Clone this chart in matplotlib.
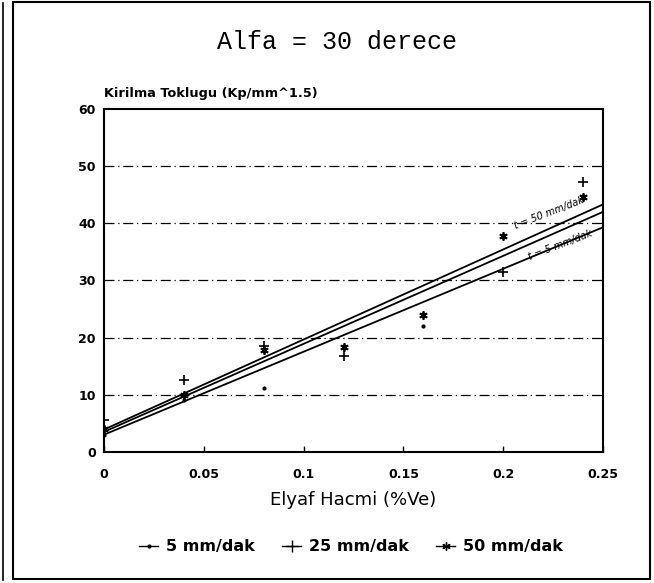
import numpy as np
import matplotlib
matplotlib.use("Agg")
import matplotlib.pyplot as plt
from matplotlib.lines import Line2D
from matplotlib.patches import Rectangle

# Measured points (Elyaf Hacmi vs Kirilma Toklugu)
x_5 = [0.0, 0.04, 0.08, 0.16]
y_5 = [3.0, 9.0, 11.2, 22.0]
x_25 = [0.0, 0.04, 0.08, 0.12, 0.20, 0.24]
y_25 = [5.6, 12.6, 18.5, 16.7, 31.4, 47.2]
x_50 = [0.0, 0.04, 0.08, 0.12, 0.16, 0.20, 0.24]
y_50 = [4.0, 10.0, 17.8, 18.3, 23.9, 37.7, 44.6]

# Fitted lines, value at x=0 and x=0.25
fit_x = [0.0, 0.25]
fit_5 = [3.0, 39.3]
fit_25 = [3.5, 42.0]
fit_50 = [3.9, 43.3]

xticks = [0, 0.05, 0.1, 0.15, 0.2, 0.25]
xtick_labels = ["0", "0.05", "0.1", "0.15", "0.2", "0.25"]
yticks = [0, 10, 20, 30, 40, 50, 60]

fig = plt.figure(figsize=(6.54, 5.83), dpi=100)
ax = fig.add_axes([0.159, 0.225, 0.763, 0.588])

# grid lines, dash-dot like the printout
for yv in yticks[1:-1]:
    ax.axhline(yv, color="black", lw=0.9, ls=(0, (8, 3, 1, 3)), zorder=1)

ax.plot(fit_x, fit_50, color="black", lw=1.3, zorder=2)
ax.plot(fit_x, fit_25, color="black", lw=1.3, zorder=2)
ax.plot(fit_x, fit_5, color="black", lw=1.3, zorder=2)

ax.plot(x_5, y_5, ls="none", marker=".", ms=4, color="black", zorder=3)
ax.plot(x_25, y_25, ls="none", marker="+", ms=7, mew=1.2, color="black", zorder=3)
ax.plot(x_50, y_50, ls="none", marker=(6, 2, 0), ms=6, mew=1.3, color="black", zorder=3)

ax.set_xlim(0, 0.25)
ax.set_ylim(0, 60)
ax.set_xticks(xticks)
ax.set_xticklabels(xtick_labels)
ax.set_yticks(yticks)
ax.tick_params(axis="x", direction="in", length=4, width=1, pad=12)
ax.tick_params(axis="y", length=0, pad=6)
for lab in ax.get_xticklabels() + ax.get_yticklabels():
    lab.set_fontweight("bold")
    lab.set_fontsize(9)
for s in ax.spines.values():
    s.set_linewidth(1.5)

ax.set_xlabel("Elyaf Hacmi (%Ve)", fontsize=13, labelpad=7)
ax.text(0.0, 1.025, "Kirilma Toklugu (Kp/mm^1.5)", transform=ax.transAxes,
        fontsize=9.3, fontweight="bold", ha="left", va="bottom")

# handwritten notes on the lines
ax.text(0.205, 38.6, "t = 50 mm/dak", rotation=21, fontsize=7, style="italic",
        ha="left", va="bottom")
ax.text(0.212, 33.2, "t = 5 mm/dak", rotation=21, fontsize=7, style="italic",
        ha="left", va="bottom")

fig.text(0.515, 0.928, "Alfa = 30 derece", fontsize=18, family="Liberation Mono",
         ha="center", va="center")

handles = [
    Line2D([], [], color="black", lw=1, marker=".", ms=4),
    Line2D([], [], color="black", lw=1, marker="+", ms=8),
    Line2D([], [], color="black", lw=1, marker=(6, 2, 0), ms=6),
]
fig.legend(handles, ["5 mm/dak", "25 mm/dak", "50 mm/dak"], loc="center",
           bbox_to_anchor=(0.537, 0.062), ncol=3, frameon=False,
           handlelength=1.2, handletextpad=0.5, columnspacing=1.7,
           prop={"weight": "bold", "size": 11.5})

# outer frame around the whole chart
fig.patches.append(Rectangle((0.02, 0.007), 0.974, 0.99, transform=fig.transFigure,
                             fill=False, lw=1.5, color="black"))
fig.add_artist(Line2D([0.005, 0.005], [0.005, 0.995], transform=fig.transFigure,
                      color="black", lw=1.2))

fig.savefig("out.png", dpi=100)
